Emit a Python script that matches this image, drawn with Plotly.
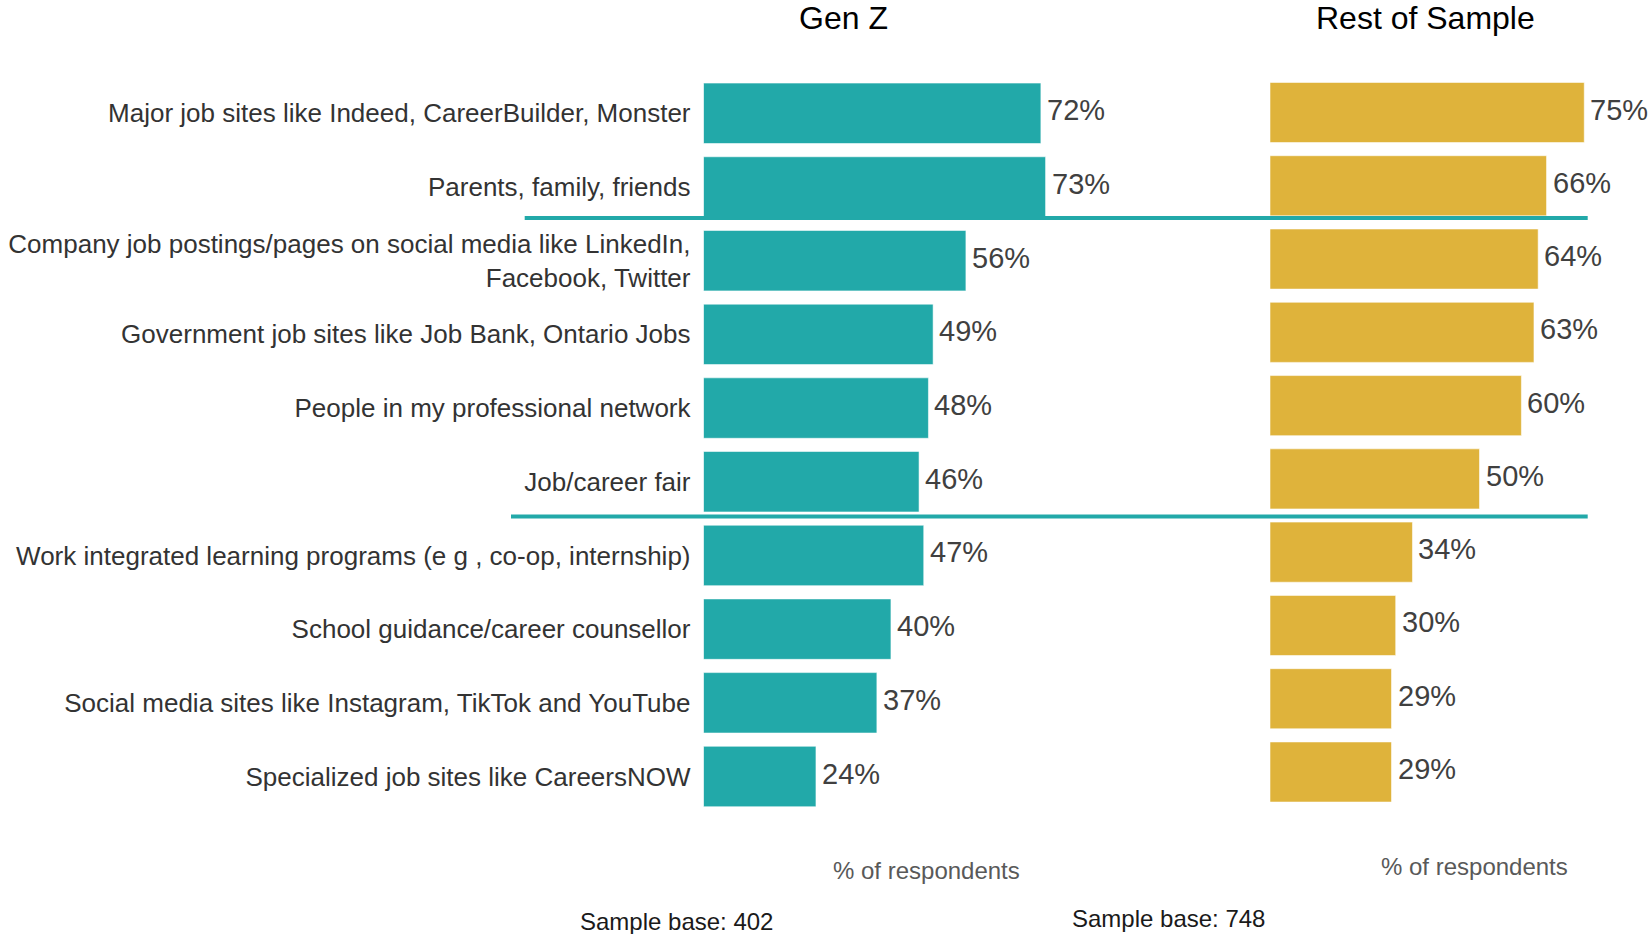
import plotly.graph_objects as go

categories = [
    "Major job sites like Indeed, CareerBuilder, Monster",
    "Parents, family, friends",
    "Company job postings/pages on social media like LinkedIn,<br>Facebook, Twitter",
    "Government job sites like Job Bank, Ontario Jobs",
    "People in my professional network",
    "Job/career fair",
    "Work integrated learning programs (e g , co-op, internship)",
    "School guidance/career counsellor",
    "Social media sites like Instagram, TikTok and YouTube",
    "Specialized job sites like CareersNOW",
]
gen_z = [72, 73, 56, 49, 48, 46, 47, 40, 37, 24]
rest_of_sample = [75, 66, 64, 63, 60, 50, 34, 30, 29, 29]

panel_titles = ["Gen Z", "Rest of Sample"]
axis_titles = ["% of respondents", "% of respondents"]
sample_bases = ["Sample base: 402", "Sample base: 748"]

TEAL = "#22A9A9"
GOLD = "#DFB33B"
FONT = "Liberation Sans, Arial, sans-serif"
W, H = 1652, 934

def px_x(p):
    return p / W

def px_y(p):
    return 1 - p / H

fig = go.Figure()

fig.add_trace(go.Bar(
    x=gen_z, y=categories, orientation="h", xaxis="x", yaxis="y",
    marker=dict(color=TEAL, line=dict(color="rgba(255,255,255,0.55)", width=1)),
    width=0.82, showlegend=False, hoverinfo="x+y",
))
fig.add_trace(go.Bar(
    x=rest_of_sample, y=categories, orientation="h", xaxis="x2", yaxis="y2",
    marker=dict(color=GOLD, line=dict(color="rgba(255,255,255,0.55)", width=1)),
    width=0.82, showlegend=False, hoverinfo="x+y",
))

annotations = []
for cat, v in zip(categories, gen_z):
    annotations.append(dict(x=v, y=cat, xref="x", yref="y", text=f"{v}%",
                            xanchor="left", yanchor="middle", xshift=4, yshift=3,
                            showarrow=False, font=dict(size=29, color="#404040", family=FONT)))
for cat, v in zip(categories, rest_of_sample):
    annotations.append(dict(x=v, y=cat, xref="x2", yref="y2", text=f"{v}%",
                            xanchor="left", yanchor="middle", xshift=4, yshift=3,
                            showarrow=False, font=dict(size=29, color="#404040", family=FONT)))

# panel titles
for t, cx in zip(panel_titles, [843, 1425.5]):
    annotations.append(dict(x=px_x(cx), y=px_y(18), xref="paper", yref="paper", text=t,
                            xanchor="center", yanchor="middle", showarrow=False,
                            font=dict(size=32, color="#000000", family=FONT)))
# axis titles
for t, cx, cy in zip(axis_titles, [926, 1474], [870, 866]):
    annotations.append(dict(x=px_x(cx), y=px_y(cy), xref="paper", yref="paper", text=t,
                            xanchor="center", yanchor="middle", showarrow=False,
                            font=dict(size=24, color="#595959", family=FONT)))
# sample bases
for t, cx, cy in zip(sample_bases, [676.4, 1168], [921, 918.7]):
    annotations.append(dict(x=px_x(cx), y=px_y(cy), xref="paper", yref="paper", text=t,
                            xanchor="center", yanchor="middle", showarrow=False,
                            font=dict(size=24, color="#1a1a1a", family=FONT)))

shapes = [
    dict(type="line", xref="paper", yref="paper", x0=px_x(524.7), x1=px_x(1587.7),
         y0=px_y(218), y1=px_y(218), line=dict(color=TEAL, width=4)),
    dict(type="line", xref="paper", yref="paper", x0=px_x(511), x1=px_x(1587.7),
         y0=px_y(516.5), y1=px_y(516.5), line=dict(color=TEAL, width=4)),
]

fig.update_layout(
    width=W, height=H,
    margin=dict(l=0, r=0, t=0, b=0),
    paper_bgcolor="white", plot_bgcolor="white",
    font=dict(family=FONT, color="#333333"),
    bargap=0.18,
    xaxis=dict(domain=[px_x(703.5), px_x(703.5 + 80 * 4.686)], range=[0, 80],
               visible=False, fixedrange=True),
    yaxis=dict(domain=[px_y(813.35), px_y(76.45)], anchor="x",
               categoryorder="array", categoryarray=categories,
               range=[9.5, -0.5], showgrid=False, zeroline=False, showline=False,
               ticks="", ticklabelstandoff=12,
               tickfont=dict(size=26, color="#333333", family=FONT)),
    xaxis2=dict(domain=[px_x(1270), px_x(1270 + 80 * 4.19)], range=[0, 80],
                visible=False, anchor="y2", fixedrange=True),
    yaxis2=dict(domain=[px_y(808.64), px_y(75.86)], anchor="x2",
                categoryorder="array", categoryarray=categories,
                range=[9.5, -0.5], showgrid=False, zeroline=False, showline=False,
                showticklabels=False, ticks=""),
    annotations=annotations,
    shapes=shapes,
)

fig.write_html(
    "out.html",
    config={"displayModeBar": False},
    post_script="document.body.style.margin='0';document.body.style.overflow='hidden';",
)
